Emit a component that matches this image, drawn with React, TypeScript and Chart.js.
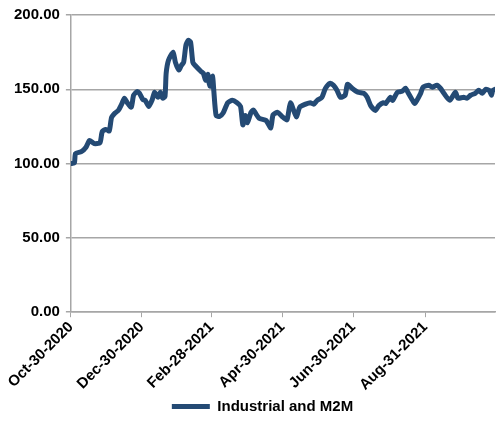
import React, { useEffect, useRef } from "react";
import { Chart, registerables } from "chart.js";

Chart.register(...registerables);

// days since Oct-30-2020
const days = [
  0, 3, 4, 9, 13, 16, 20, 25, 27, 30, 33, 35, 38, 41, 44, 46, 49, 52, 54, 57,
  59, 62, 64, 67, 70, 72, 75, 77, 79, 81, 82, 84, 88, 90, 93, 95, 97, 99, 101, 103,
  105, 107, 112, 114, 116, 118, 119, 120, 122, 123, 125, 128, 131, 135, 139, 143, 146, 148, 150, 152,
  155, 157, 162, 168, 172, 174, 178, 182, 186, 189, 194, 197, 202, 206, 209, 212, 216, 219, 223, 226,
  229, 232, 236, 238, 242, 247, 252, 255, 258, 262, 265, 269, 271, 275, 277, 281, 285, 288, 290, 294,
  296, 301, 303, 308, 311, 315, 318, 321, 326, 331, 333, 338, 341, 344, 348, 351, 354, 357, 360, 362,
  363, 365,
];

const values = [
  100, 100.5, 106.8, 108, 111, 115.5, 113.5, 114, 121.6, 123, 122, 131, 134, 136, 140.5, 144, 140.5, 138, 146, 148.5,
  147.3, 143, 142.6, 138.5, 143, 148, 144.6, 148, 144, 145.3, 160.8, 169.6, 175, 168, 163, 166, 168, 179.7, 183, 181.8,
  168, 166, 162, 160.8, 156, 160, 154, 152, 158.8, 149, 132.4, 131.8, 134, 141, 142.6, 141, 138.5, 126, 132.4, 127.5,
  134.5, 136, 130.5, 129, 124, 132.8, 134.5, 131.5, 129.5, 141, 131.5, 138, 140, 141, 140, 142.6, 144.6, 150.5, 154, 152.7,
  149.3, 144.6, 146, 153.4, 150.7, 148, 147.3, 144.6, 139, 135.8, 139, 141, 140.5, 144.6, 142.6, 148, 148.6, 150.7, 148, 142.6,
  140.5, 147.3, 151.4, 152.7, 151.4, 152.7, 150.7, 147.3, 142.6, 148, 144, 144.6, 144, 146, 147.3, 149.3, 147.3, 150, 149.3, 146,
  149.3, 150,
];

const tickDays = [0, 61, 121, 182, 243, 305];
const tickLabels = ["Oct-30-2020", "Dec-30-2020", "Feb-28-2021", "Apr-30-2021", "Jun-30-2021", "Aug-31-2021"];
const seriesName = "Industrial and M2M";

const FONT = "'Liberation Sans', Arial, sans-serif";
const LINE = "#244a74";
const GRID = "#a6a6a6";

export default function App() {
  const ref = useRef<HTMLCanvasElement | null>(null);
  useEffect(() => {
    if (!ref.current) return;
    const shiftLegend = {
      id: "shiftLegend",
      afterLayout(chart: any) {
        if (chart.legend) {
          chart.legend.left += 11;
          chart.legend.right += 11;
        }
      },
    };
    const chart = new Chart(ref.current, {
      type: "line",
      data: {
        datasets: [
          {
            label: seriesName,
            data: days.map((d, i) => ({ x: d, y: values[i] })),
            borderColor: LINE,
            backgroundColor: LINE,
            borderWidth: 5,
            pointRadius: 0,
            tension: 0.2,
            borderJoinStyle: "round",
            borderCapStyle: "round",
          },
        ],
      },
      plugins: [shiftLegend],
      options: {
        animation: false,
        responsive: false,
        layout: { padding: { left: 8, right: 3, top: 10, bottom: 7 } },
        plugins: {
          tooltip: { enabled: false },
          legend: {
            position: "bottom",
            labels: {
              usePointStyle: true,
              pointStyle: "line",
              pointStyleWidth: 38,
              color: "#000",
              font: { family: FONT, size: 15, weight: "bold" },
              padding: 4,
            },
          },
        },
        scales: {
          x: {
            type: "linear",
            min: 0,
            max: 365,
            afterBuildTicks: (scale: any) => {
              scale.ticks = tickDays.map((v) => ({ value: v }));
            },
            ticks: {
              autoSkip: false,
              minRotation: 45,
              maxRotation: 45,
              color: "#000",
              font: { family: FONT, size: 15, weight: "bold" },
              padding: 1,
              callback: (v: any) => {
                const i = tickDays.indexOf(Number(v));
                return i >= 0 ? tickLabels[i] : "";
              },
            },
            grid: { drawOnChartArea: false, drawTicks: true, tickLength: 5, color: GRID },
            border: { color: GRID, width: 1.5 },
          },
          y: {
            min: 0,
            max: 200,
            ticks: {
              stepSize: 50,
              color: "#000",
              font: { family: FONT, size: 15, weight: "bold" },
              padding: 6,
              callback: (v: any) => Number(v).toFixed(2),
            },
            grid: { color: GRID, lineWidth: 1.5, tickLength: 5 },
            border: { color: GRID, width: 1.5 },
          },
        },
      },
    } as any);
    return () => chart.destroy();
  }, []);
  return (
    <div style={{ position: "fixed", left: 0, top: 0, width: 498, height: 431, background: "#fff" }}>
      <canvas ref={ref} width={498} height={431} style={{ width: 498, height: 431 }} />
    </div>
  );
}
